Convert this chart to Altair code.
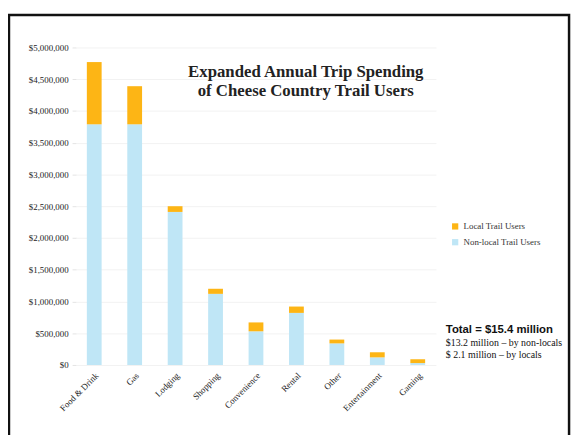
import altair as alt
import pandas as pd

categories = ["Food & Drink", "Gas", "Lodging", "Shopping", "Convenience",
              "Rental", "Other", "Entertainment", "Gaming"]
nonlocal_users = [3790000, 3790000, 2410000, 1120000, 530000, 820000, 340000, 120000, 30000]
local_users = [980000, 600000, 90000, 80000, 140000, 100000, 60000, 80000, 60000]
series_names = ["Local Trail Users", "Non-local Trail Users"]
title_lines = ["Expanded Annual Trip Spending", "of Cheese Country Trail Users"]
note_lines = ["Total = $15.4 million", "$13.2 million \u2013 by non-locals", "$ 2.1 million \u2013 by locals"]

rows = []
for c, nl, l in zip(categories, nonlocal_users, local_users):
    rows.append({"Category": c, "Group": series_names[1], "Value": nl, "ord": 0})
    rows.append({"Category": c, "Group": series_names[0], "Value": l, "ord": 1})
df = pd.DataFrame(rows)

W, H = 365, 322

bars = alt.Chart(df).mark_bar(size=15).encode(
    x=alt.X("Category:N", sort=categories, title=None,
            scale=alt.Scale(paddingInner=0.6, paddingOuter=0.25),
            axis=alt.Axis(labelAngle=-45, labelFont="Liberation Serif", labelFontSize=9,
                          labelColor="#222", domain=False, ticks=False, labelPadding=6)),
    y=alt.Y("Value:Q", stack="zero", title=None,
            scale=alt.Scale(domain=[0, 5000000]),
            axis=alt.Axis(values=list(range(0, 5000001, 500000)), format="$,.0f",
                          labelFont="Liberation Serif", labelFontSize=9, labelColor="#222",
                          domain=False, ticks=True, tickColor="#e4e4e4", tickSize=4,
                          grid=True, gridColor="#f2f2f2", labelPadding=4)),
    color=alt.Color("Group:N", sort=series_names,
                    scale=alt.Scale(domain=series_names, range=["#FDB515", "#BFE6F6"]),
                    legend=alt.Legend(title=None, orient="none", legendX=380, legendY=177,
                                      symbolType="square", symbolSize=40,
                                      labelFont="Liberation Serif", labelFontSize=9,
                                      labelColor="#333", rowPadding=6)),
    order=alt.Order("ord:Q"),
)

title_df = pd.DataFrame({"t": title_lines, "i": list(range(len(title_lines)))})
title = alt.Chart(title_df).mark_text(font="Liberation Serif", fontSize=17, fontWeight="bold",
                                      color="#222", align="center", baseline="alphabetic").encode(
    text="t:N",
    x=alt.value(233),
    y=alt.Y("i:Q", scale=alt.Scale(domain=[0, 1], range=[30, 49]), axis=None),
)

note_df = pd.DataFrame({"t": note_lines, "i": list(range(len(note_lines)))})
note_bold = alt.Chart(note_df.iloc[:1]).mark_text(font="Liberation Sans", fontSize=11.5, fontWeight="bold",
                                                   color="#111", align="left").encode(
    text="t:N", x=alt.value(375), y=alt.value(287))
note_rest = alt.Chart(note_df.iloc[1:]).mark_text(font="Liberation Serif", fontSize=10,
                                                   color="#111", align="left").encode(
    text="t:N", x=alt.value(375),
    y=alt.Y("i:Q", scale=alt.Scale(domain=[1, 2], range=[300, 312]), axis=None))

frame = alt.Chart(pd.DataFrame({"a": [0]})).mark_rect(fill=None, stroke="#111", strokeWidth=2.5).encode(
    x=alt.value(-68), x2=alt.value(500), y=alt.value(-33), y2=alt.value(400))

chart = alt.layer(bars, title, note_bold, note_rest, frame).resolve_scale(y="independent").properties(
    width=W, height=H,
    padding={"left": 69, "top": 37, "right": 139, "bottom": 68},
    autosize=alt.AutoSizeParams(type="none"),
).configure(background="white").configure_view(stroke=None)

chart.save("out.html", embed_options={"renderer": "svg", "actions": False})
